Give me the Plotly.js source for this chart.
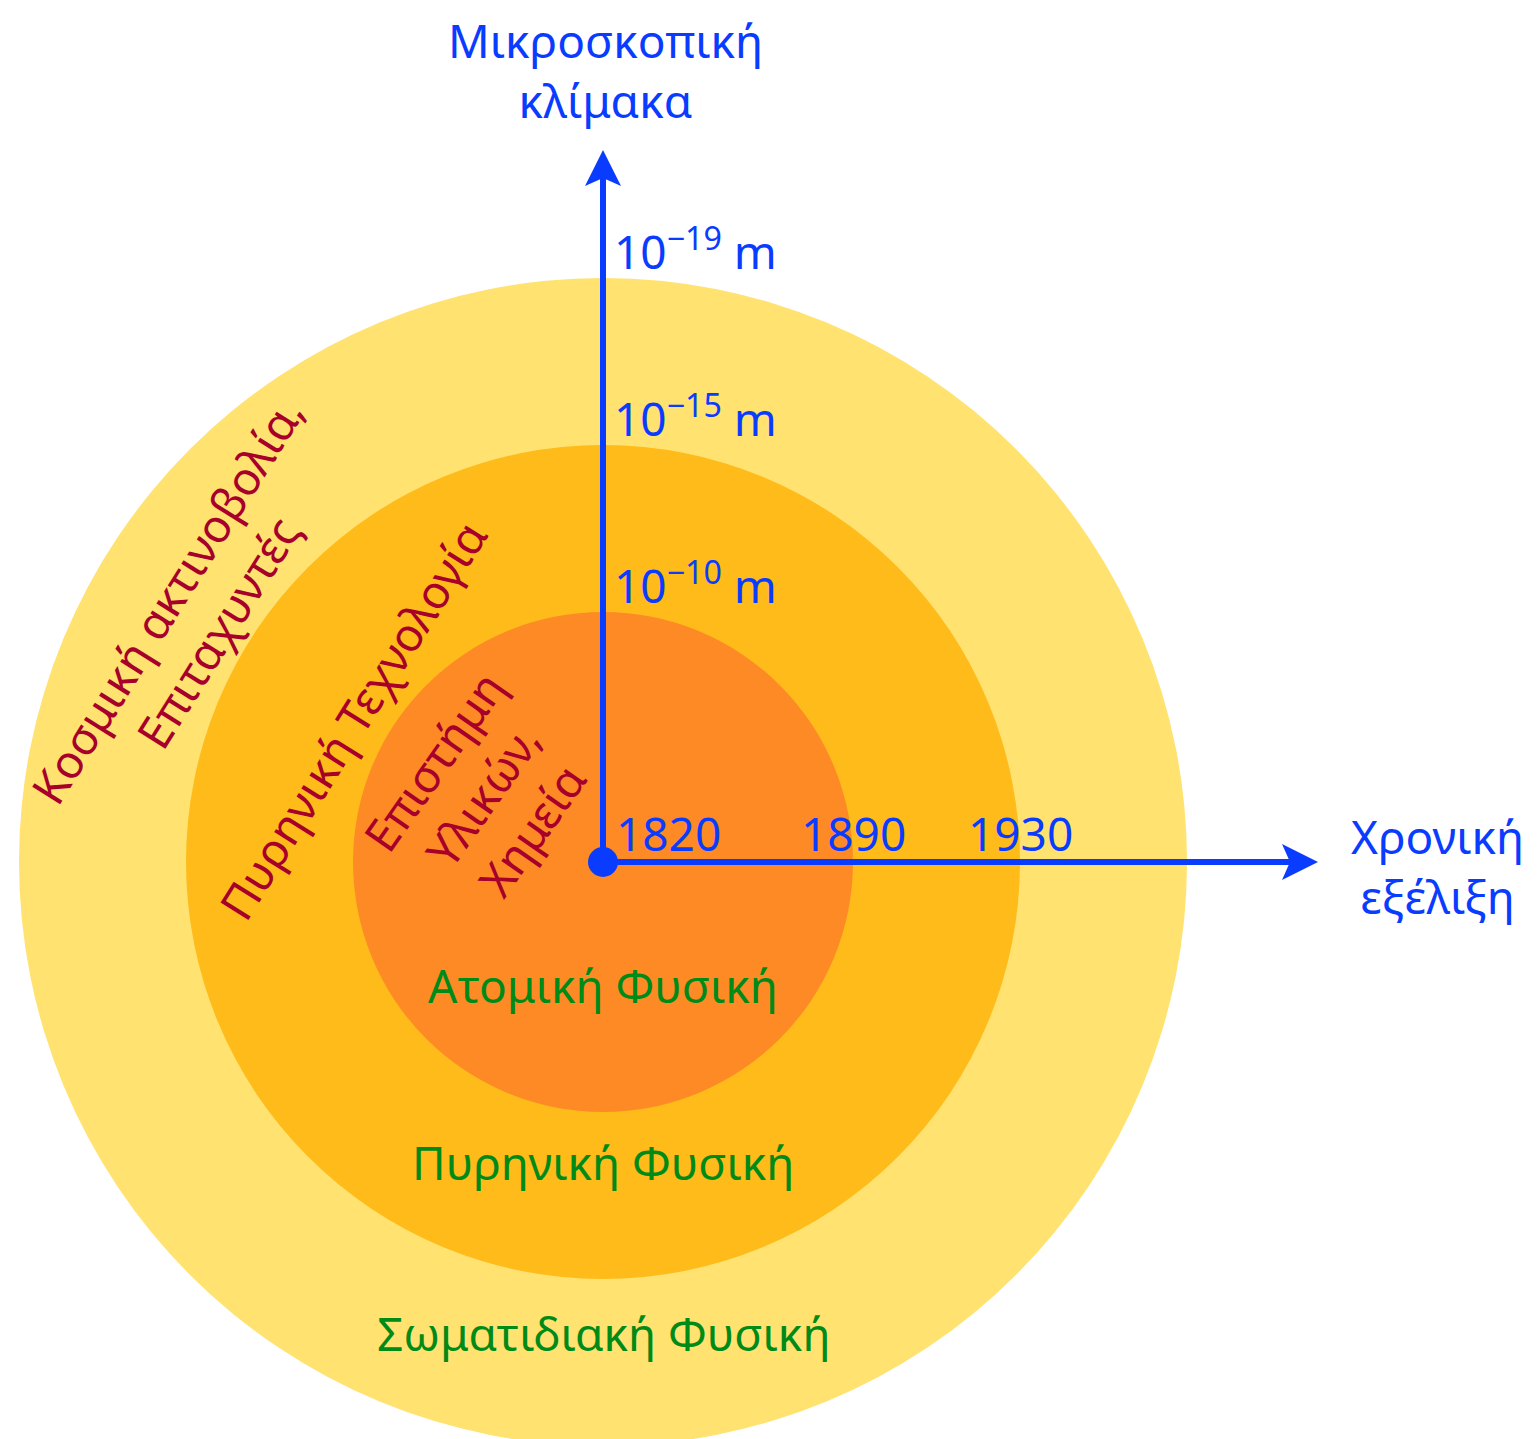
<!DOCTYPE html>
<html>
<head>
<meta charset="utf-8">
<script src="https://cdn.plot.ly/plotly-3.0.1.min.js"></script>
<style>html,body{margin:0;padding:0;background:#fff;}#chart{width:1539px;height:1439px;}</style>
</head>
<body>
<div id="chart"></div>
<script>
// ---- data ----
const ringNames = ['Σωματιδιακή Φυσική', 'Πυρηνική Φυσική', 'Ατομική Φυσική'];
const ringRadii = [584, 417, 250];
const ringColors = ['#FFE26F', '#FEBB1A', '#FE8A26'];
const ringTopics = ['Κοσμική ακτινοβολία,<br>Επιταχυντές', 'Πυρηνική Τεχνολογία', 'Επιστήμη<br>Υλικών,<br>Χημεία'];
const yearLabels = ['1820', '1890', '1930'];
const scaleLabels = ['10<sup>−19</sup> m', '10<sup>−15</sup> m', '10<sup>−10</sup> m'];
const axisTitleX = 'Χρονική<br>εξέλιξη';
const axisTitleY = 'Μικροσκοπική<br>κλίμακα';

// ---- layout helpers ----
const cx = 603, cy = 862;
const yTip = 150, xTip = 1318;
const FONT = 'Noto Sans, DejaVu Sans, sans-serif';
const BLUE = '#0A3CFF', RED = '#A6002B', GREEN = '#008A17';
const FS = 46;

const shapes = ringRadii.map((r, i) => ({
  type: 'circle', xref: 'x', yref: 'y', layer: 'below',
  x0: cx - r, x1: cx + r, y0: cy - r, y1: cy + r,
  fillcolor: ringColors[i], line: {width: 0}
}));

// axis lines
shapes.push({type: 'line', xref: 'x', yref: 'y', x0: cx, x1: cx, y0: cy, y1: yTip + 20,
  line: {color: BLUE, width: 6}});
shapes.push({type: 'line', xref: 'x', yref: 'y', x0: cx, x1: xTip - 20, y0: cy, y1: cy,
  line: {color: BLUE, width: 6}});
// arrow heads (notched)
shapes.push({type: 'path', xref: 'x', yref: 'y', fillcolor: BLUE, line: {width: 0},
  path: `M${cx},${yTip} L${cx + 18},${yTip + 36} L${cx},${yTip + 28} L${cx - 18},${yTip + 36} Z`});
shapes.push({type: 'path', xref: 'x', yref: 'y', fillcolor: BLUE, line: {width: 0},
  path: `M${xTip},${cy} L${xTip - 36},${cy + 18} L${xTip - 28},${cy} L${xTip - 36},${cy - 18} Z`});

const annotations = [];

// axis titles
annotations.push({x: cx + 2, y: 70, xref: 'x', yref: 'y', text: axisTitleY, showarrow: false,
  font: {family: FONT, size: FS, color: BLUE}, align: 'center', xanchor: 'center', yanchor: 'middle'});
annotations.push({x: 1437, y: 866, xref: 'x', yref: 'y', text: axisTitleX, showarrow: false,
  font: {family: FONT, size: FS, color: BLUE}, align: 'center', xanchor: 'center', yanchor: 'middle'});

// scale labels (above each ring top on vertical axis)
ringRadii.forEach((r, i) => {
  annotations.push({x: 612, y: cy - r + 6, xref: 'x', yref: 'y', text: scaleLabels[i], showarrow: false,
    font: {family: FONT, size: FS, color: BLUE}, xanchor: 'left', yanchor: 'bottom'});
});

// year labels
const yearX = [614, cx + ringRadii[2], cx + ringRadii[1]];
const yearAnchor = ['left', 'center', 'center'];
yearLabels.forEach((t, i) => {
  annotations.push({x: yearX[i], y: 866, xref: 'x', yref: 'y', text: t, showarrow: false,
    font: {family: FONT, size: FS, color: BLUE}, xanchor: yearAnchor[i], yanchor: 'bottom'});
});

// ring names (green)
const nameY = [1333, 1162, 985];
ringNames.forEach((t, i) => {
  annotations.push({x: cx, y: nameY[i], xref: 'x', yref: 'y', text: t, showarrow: false,
    font: {family: FONT, size: FS, color: GREEN}, xanchor: 'center', yanchor: 'middle'});
});

// ring topics (red, rotated)
const topicPos = [[192, 616, -58], [352, 720, -58], [482, 796, -55]];
ringTopics.forEach((t, i) => {
  annotations.push({x: topicPos[i][0], y: topicPos[i][1], xref: 'x', yref: 'y', text: t, showarrow: false,
    textangle: topicPos[i][2], align: 'center',
    font: {family: FONT, size: FS, color: RED}, xanchor: 'center', yanchor: 'middle'});
});

const traces = [{
  type: 'scatter', mode: 'markers', x: [cx], y: [cy],
  marker: {size: 30, color: BLUE}, hoverinfo: 'skip', showlegend: false
}];

const layout = {
  width: 1539, height: 1439,
  margin: {l: 0, r: 0, t: 0, b: 0, pad: 0},
  paper_bgcolor: '#ffffff', plot_bgcolor: '#ffffff',
  xaxis: {range: [0, 1539], visible: false, fixedrange: true},
  yaxis: {range: [1439, 0], visible: false, fixedrange: true},
  shapes: shapes, annotations: annotations, showlegend: false
};

Plotly.newPlot('chart', traces, layout, {displayModeBar: false, staticPlot: true});
</script>
</body>
</html>
